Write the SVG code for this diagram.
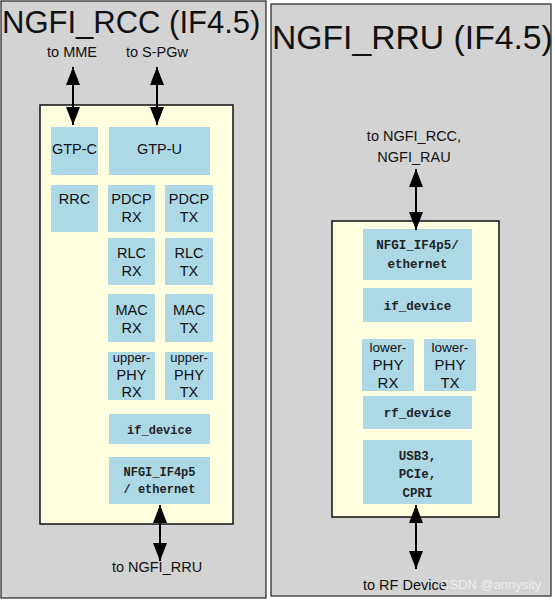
<svg xmlns="http://www.w3.org/2000/svg" width="555" height="601" viewBox="0 0 555 601">
<defs>
<marker id="ah2" viewBox="0 0 18 14" refX="18" refY="7" markerWidth="18" markerHeight="14" markerUnits="userSpaceOnUse" orient="auto-start-reverse">
<path d="M0,0 L18,7 L0,14 Z" fill="#000"/>
</marker>
<style>
.outer{fill:#d3d3d3;stroke:#222;stroke-width:1.2}
.inner{fill:#ffffe0;stroke:#111;stroke-width:1.5}
.blk{fill:#add8e6}
.t{font-family:"Liberation Sans","DejaVu Sans",sans-serif;fill:#111;text-anchor:middle}
.s{font-size:14.5px}
.r{font-size:15px}
.m{font-family:"Liberation Mono","DejaVu Sans Mono",monospace;font-weight:bold;font-size:12px;fill:#222;text-anchor:middle}
.mr{font-size:12.5px}
.title{font-family:"Liberation Sans","DejaVu Sans",sans-serif;fill:#111}
.arr{stroke:#000;stroke-width:2;fill:none;marker-start:url(#ah2);marker-end:url(#ah2)}
</style>
</defs>

<g id="rcc">
<rect class="outer" x="1" y="1" width="265" height="597"/>
<text class="title" x="2" y="33" font-size="31">NGFI_RCC (IF4.5)</text>
<rect class="inner" x="40" y="105" width="193" height="419"/>
</g>

<g id="rru">
<rect class="outer" x="271" y="4" width="280" height="592"/>
<text class="title" x="272" y="49" font-size="33.7">NGFI_RRU (IF4.5)</text>
<rect class="inner" x="332" y="221" width="167" height="296"/>
</g>

<g id="gtp-c"><rect class="blk" x="51" y="127" width="47" height="48"/><text class="t s" x="74.5" y="154">GTP-C</text></g>
<g id="gtp-u"><rect class="blk" x="109" y="127" width="101" height="48"/><text class="t s" x="159.5" y="154">GTP-U</text></g>
<g id="rrc"><rect class="blk" x="51" y="185" width="47" height="47"/><text class="t s" x="74.5" y="204">RRC</text></g>
<g id="pdcp-rx"><rect class="blk" x="108" y="185" width="47" height="47"/><text class="t s" x="131.5" y="204">PDCP</text><text class="t s" x="131.5" y="222">RX</text></g>
<g id="pdcp-tx"><rect class="blk" x="165" y="185" width="48" height="47"/><text class="t s" x="189" y="204">PDCP</text><text class="t s" x="189" y="222">TX</text></g>
<g id="rlc-rx"><rect class="blk" x="108" y="238" width="47" height="47"/><text class="t s" x="131.5" y="258">RLC</text><text class="t s" x="131.5" y="276">RX</text></g>
<g id="rlc-tx"><rect class="blk" x="165" y="238" width="48" height="47"/><text class="t s" x="189" y="258">RLC</text><text class="t s" x="189" y="276">TX</text></g>
<g id="mac-rx"><rect class="blk" x="108" y="294" width="47" height="48"/><text class="t s" x="131.5" y="315">MAC</text><text class="t s" x="131.5" y="333">RX</text></g>
<g id="mac-tx"><rect class="blk" x="165" y="294" width="48" height="48"/><text class="t s" x="189" y="315">MAC</text><text class="t s" x="189" y="333">TX</text></g>
<g id="upper-phy-rx"><rect class="blk" x="108" y="352" width="47" height="48"/><text class="t" font-size="13" x="131.5" y="362">upper-</text><text class="t s" x="131.5" y="380">PHY</text><text class="t s" x="131.5" y="397">RX</text></g>
<g id="upper-phy-tx"><rect class="blk" x="165" y="352" width="48" height="48"/><text class="t" font-size="13" x="189" y="362">upper-</text><text class="t s" x="189" y="380">PHY</text><text class="t s" x="189" y="397">TX</text></g>
<g id="if-device-rcc"><rect class="blk" x="109" y="414" width="101" height="30"/><text class="m" x="159.5" y="434">if_device</text></g>
<g id="if4p5-rcc"><rect class="blk" x="109" y="457" width="101" height="47"/><text class="m" x="159.5" y="476">NFGI_IF4p5</text><text class="m" x="159.5" y="493">/ ethernet</text></g>

<g id="if4p5-rru"><rect class="blk" x="363" y="229" width="109" height="51"/><text class="m mr" x="417.5" y="249">NFGI_IF4p5/</text><text class="m mr" x="417.5" y="268">ethernet</text></g>
<g id="if-device-rru"><rect class="blk" x="363" y="288" width="109" height="34"/><text class="m mr" x="417.5" y="310">if_device</text></g>
<g id="lower-phy-rx"><rect class="blk" x="362" y="339" width="52" height="52"/><text class="t" font-size="13.5" x="388" y="352">lower-</text><text class="t r" x="388" y="370">PHY</text><text class="t r" x="388" y="388">RX</text></g>
<g id="lower-phy-tx"><rect class="blk" x="424" y="339" width="52" height="52"/><text class="t" font-size="13.5" x="450" y="352">lower-</text><text class="t r" x="450" y="370">PHY</text><text class="t r" x="450" y="388">TX</text></g>
<g id="rf-device"><rect class="blk" x="363" y="396" width="109" height="33"/><text class="m mr" x="417.5" y="417">rf_device</text></g>
<g id="usb3"><rect class="blk" x="363" y="440" width="109" height="64"/><text class="m mr" x="417.5" y="460">USB3,</text><text class="m mr" x="417.5" y="478">PCIe,</text><text class="m mr" x="417.5" y="497">CPRI</text></g>

<g id="connectors">
<line class="arr" x1="73" y1="67" x2="73" y2="125"/>
<line class="arr" x1="157" y1="67" x2="157" y2="125"/>
<line class="arr" x1="160" y1="505" x2="160" y2="561"/>
<line class="arr" x1="416" y1="169" x2="416" y2="230"/>
<line class="arr" x1="416" y1="505" x2="416" y2="569"/>
</g>

<g id="labels">
<text class="t s" x="72" y="57">to MME</text>
<text class="t s" x="157" y="57">to S-PGw</text>
<text class="t s" x="157" y="572">to NGFI_RRU</text>
<text class="t s" x="414" y="141">to NGFI_RCC,</text>
<text class="t s" x="414" y="162">NGFI_RAU</text>
<text class="t s" x="363" y="590" style="text-anchor:start">to RF Device</text>
<text x="440" y="589" font-family="Liberation Sans, DejaVu Sans, sans-serif" font-size="13" fill="#f4f4f4" fill-opacity="0.85">CSDN @annysity</text>
</g>
</svg>
